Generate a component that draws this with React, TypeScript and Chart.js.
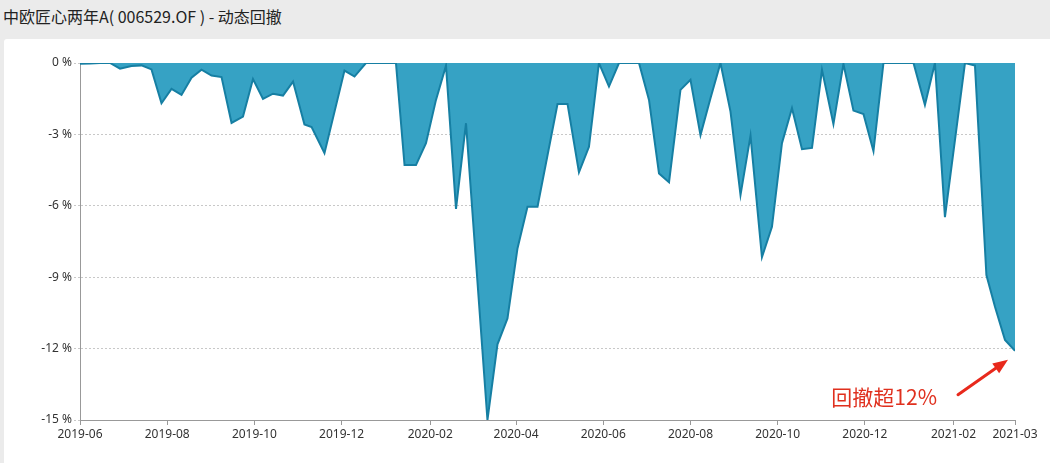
import React, { useEffect, useRef } from "react";
import { Chart, registerables } from "chart.js";

Chart.register(...registerables);

const TITLE = "中欧匠心两年A( 006529.OF ) - 动态回撤";
const ANNOTATION = "回撤超12%";

const dates = [
  "2019-06-01", "2019-06-08", "2019-06-15", "2019-06-22", "2019-06-29", "2019-07-07", "2019-07-14", "2019-07-21",
  "2019-07-28", "2019-08-04", "2019-08-11", "2019-08-18", "2019-08-25", "2019-09-01", "2019-09-08", "2019-09-15",
  "2019-09-23", "2019-09-30", "2019-10-07", "2019-10-14", "2019-10-21", "2019-10-28", "2019-11-05", "2019-11-10",
  "2019-11-19", "2019-12-03", "2019-12-10", "2019-12-18", "2019-12-25", "2019-12-31", "2020-01-08", "2020-01-14",
  "2020-01-22", "2020-01-29", "2020-02-05", "2020-02-12", "2020-02-19", "2020-02-26", "2020-03-12", "2020-03-19",
  "2020-03-26", "2020-04-02", "2020-04-09", "2020-04-16", "2020-04-30", "2020-05-07", "2020-05-15", "2020-05-22",
  "2020-05-29", "2020-06-05", "2020-06-12", "2020-06-19", "2020-06-26", "2020-07-03", "2020-07-10", "2020-07-17",
  "2020-07-25", "2020-08-01", "2020-08-08", "2020-08-15", "2020-08-22", "2020-08-29", "2020-09-05", "2020-09-12",
  "2020-09-20", "2020-09-27", "2020-10-04", "2020-10-11", "2020-10-18", "2020-10-25", "2020-11-01", "2020-11-09",
  "2020-11-16", "2020-11-23", "2020-11-30", "2020-12-07", "2020-12-14", "2020-12-21", "2020-12-28", "2021-01-04",
  "2021-01-12", "2021-01-19", "2021-01-26", "2021-02-09", "2021-02-16", "2021-02-24", "2021-03-02", "2021-03-09",
  "2021-03-16",
];

const drawdown = [
  -0.03, -0.02, 0, 0, -0.24, -0.13, -0.1, -0.27,
  -1.69, -1.09, -1.34, -0.62, -0.28, -0.53, -0.59, -2.52,
  -2.25, -0.67, -1.51, -1.29, -1.37, -0.78, -2.58, -2.69,
  -3.79, -0.32, -0.57, 0, 0, 0, 0, -4.29,
  -4.29, -3.37, -1.55, -0.11, -6.13, -2.53, -15.0, -11.82,
  -10.73, -7.79, -6.04, -6.04, -1.72, -1.72, -4.59, -3.52,
  0, -0.99, 0, 0, 0, -1.55, -4.64, -5.01,
  -1.13, -0.71, -3.03, -1.48, 0, -2.04, -5.55, -3.05,
  -8.16, -6.88, -3.37, -1.9, -3.62, -3.57, -0.29, -2.57,
  -0.04, -2.0, -2.14, -3.7, 0, 0, 0, 0,
  -1.76, 0, -6.48, 0, -0.11, -8.91, -10.24, -11.64,
  -12.09,
];

const xTickDates = [
  "2019-06-01", "2019-08-01", "2019-10-01", "2019-12-01", "2020-02-01", "2020-04-01",
  "2020-06-01", "2020-08-01", "2020-10-01", "2020-12-01", "2021-02-01", "2021-03-16",
];

const yTicks = [0, -3, -6, -9, -12, -15];

const toMs = (s: string) => {
  const [y, m, d] = s.split("-").map(Number);
  return Date.UTC(y, m - 1, d);
};

const fmtMonth = (v: number) => {
  const d = new Date(v);
  const m = d.getUTCMonth() + 1;
  return `${d.getUTCFullYear()}-${m < 10 ? "0" + m : m}`;
};

const annotationPlugin = {
  id: "drawdownNote",
  afterDatasetsDraw(chart: any) {
    const meta = chart.getDatasetMeta(0);
    const pts = meta.data;
    if (!pts || !pts.length) return;
    const last = pts[pts.length - 1];
    const ctx = chart.ctx;
    const tipX = last.x - 7;
    const tipY = last.y + 9;
    const tailX = last.x - 57;
    const tailY = last.y + 44;
    const color = "#e8291c";
    ctx.save();
    const ang = Math.atan2(tipY - tailY, tipX - tailX);
    const headLen = 15;
    const headW = 6;
    const baseX = tipX - headLen * Math.cos(ang);
    const baseY = tipY - headLen * Math.sin(ang);
    ctx.strokeStyle = color;
    ctx.lineWidth = 3;
    ctx.lineCap = "round";
    ctx.beginPath();
    ctx.moveTo(tailX, tailY);
    ctx.lineTo(baseX, baseY);
    ctx.stroke();
    ctx.fillStyle = color;
    ctx.beginPath();
    ctx.moveTo(tipX, tipY);
    ctx.lineTo(baseX + headW * Math.sin(ang), baseY - headW * Math.cos(ang));
    ctx.lineTo(baseX - headW * Math.sin(ang), baseY + headW * Math.cos(ang));
    ctx.closePath();
    ctx.fill();
    ctx.font = '21px "Noto Sans CJK SC", sans-serif';
    ctx.fillStyle = "#e0301e";
    ctx.textAlign = "right";
    ctx.textBaseline = "middle";
    ctx.fillText(ANNOTATION, tailX - 21, tailY + 2);
    ctx.restore();
  },
};

export default function App() {
  const canvasRef = useRef<HTMLCanvasElement | null>(null);

  useEffect(() => {
    if (!canvasRef.current) return;
    const points = dates.map((d, i) => ({ x: toMs(d), y: drawdown[i] }));
    const font = { family: '"Noto Sans", "Liberation Sans", sans-serif', size: 12 };
    const chart = new Chart(canvasRef.current, {
      type: "line",
      data: {
        datasets: [
          {
            data: points,
            borderColor: "#167fa3",
            backgroundColor: "#36a2c4",
            borderWidth: 2,
            fill: "origin",
            tension: 0,
            pointRadius: 0,
            pointHoverRadius: 0,
          },
        ],
      },
      options: {
        responsive: false,
        animation: false,
        events: [],
        layout: { padding: { left: 0, top: 63, right: 35, bottom: 0 } },
        plugins: {
          legend: { display: false },
          tooltip: { enabled: false },
          title: { display: false },
        },
        scales: {
          x: {
            type: "linear",
            min: toMs(xTickDates[0]),
            max: toMs(xTickDates[xTickDates.length - 1]),
            afterBuildTicks: (scale: any) => {
              scale.ticks = xTickDates.map((d) => ({ value: toMs(d) }));
            },
            afterFit: (scale: any) => {
              scale.height = 43;
            },
            grid: {
              drawOnChartArea: false,
              drawTicks: true,
              tickLength: 5,
              tickColor: "#999",
            },
            border: { display: true, color: "#999", width: 1 },
            ticks: {
              autoSkip: false,
              maxRotation: 0,
              padding: 2,
              color: "#333",
              font,
              callback: (v: any) => fmtMonth(Number(v)),
            },
          },
          y: {
            type: "linear",
            min: -15,
            max: 0,
            afterBuildTicks: (scale: any) => {
              scale.ticks = yTicks.map((v) => ({ value: v }));
            },
            afterFit: (scale: any) => {
              scale.width = 80;
            },
            grid: {
              color: "#c8c8c8",
              tickColor: "#c8c8c8",
              tickLength: 6,
              tickBorderDash: [2, 2],
            },
            border: { display: true, color: "#999", width: 1, dash: [2, 2] },
            ticks: {
              padding: 2,
              color: "#333",
              font,
              callback: (v: any) => `${Math.round(Number(v)) === 0 ? 0 : Math.round(Number(v))} %`,
            },
          },
        },
      },
      plugins: [annotationPlugin],
    } as any);
    return () => chart.destroy();
  }, []);

  return (
    <div
      style={{
        position: "fixed",
        left: 0,
        top: 0,
        width: 1050,
        height: 463,
        background: "#ebebeb",
        overflow: "hidden",
      }}
    >
      <div
        style={{
          position: "absolute",
          left: 3,
          top: 5,
          fontFamily: '"Noto Sans CJK SC", sans-serif',
          fontSize: 16,
          color: "#222",
          whiteSpace: "nowrap",
          lineHeight: "22px",
        }}
      >
        {TITLE}
      </div>
      <div
        style={{
          position: "absolute",
          left: 4,
          top: 39,
          width: 1060,
          height: 440,
          background: "#ffffff",
          borderRadius: 3,
        }}
      />
      <canvas
        ref={canvasRef}
        width={1050}
        height={463}
        style={{ position: "absolute", left: 0, top: 0, width: 1050, height: 463 }}
      />
    </div>
  );
}
